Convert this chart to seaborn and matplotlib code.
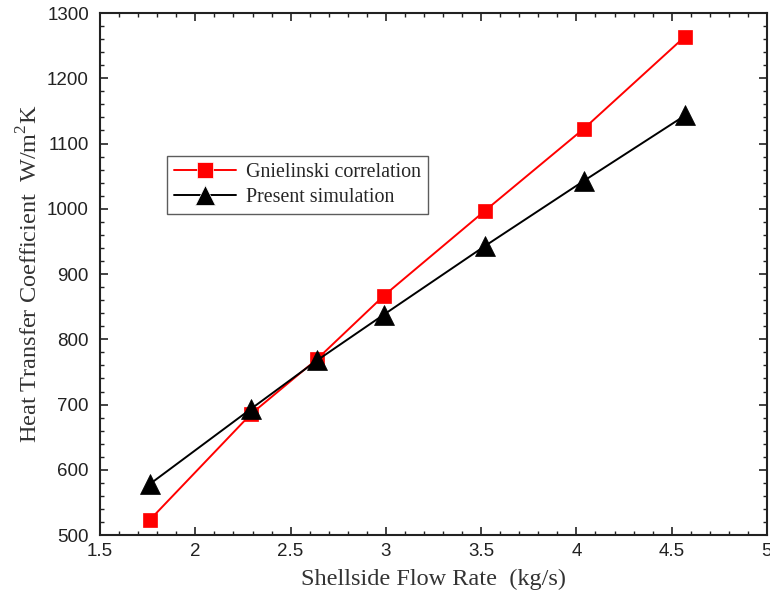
import pandas as pd
from matplotlib import pyplot as plt
from matplotlib.ticker import MultipleLocator
import seaborn as sns

# Data
flow_rate = [1.76, 2.29, 2.64, 2.99, 3.52, 4.04, 4.57]
gnielinski = [523, 685, 770, 867, 997, 1123, 1264]
simulation = [578, 693, 768, 838, 943, 1043, 1143]
series_names = ['Gnielinski correlation', 'Present simulation']

df = pd.DataFrame({
    'flow': flow_rate * 2,
    'htc': gnielinski + simulation,
    'series': [series_names[0]] * len(flow_rate) + [series_names[1]] * len(flow_rate),
})

sns.set_style('ticks')
plt.rcParams['font.family'] = ['Liberation Serif', 'DejaVu Serif']
plt.rcParams['mathtext.fontset'] = 'custom'
plt.rcParams['mathtext.rm'] = 'Liberation Serif'
plt.rcParams['xtick.direction'] = 'in'
plt.rcParams['ytick.direction'] = 'in'

fig = plt.figure(figsize=(7.7, 6.06), dpi=100)
ax = fig.add_axes([0.13, 0.117, 0.866, 0.8615])

sns.lineplot(data=df, x='flow', y='htc', hue='series', style='series',
             markers=['s', '^'], dashes=False, palette=['red', 'black'],
             markersize=11, linewidth=1.4, markeredgewidth=0.5, ax=ax)

# the triangles are a bit bigger than the squares
for line, ms in zip(ax.lines, [10.5, 14]):
    line.set_markersize(ms)
    line.set_markeredgecolor(line.get_color())

ax.set_xlim(1.5, 5)
ax.set_ylim(500, 1300)
ax.xaxis.set_major_locator(MultipleLocator(0.5))
ax.xaxis.set_minor_locator(MultipleLocator(0.1))
ax.yaxis.set_major_locator(MultipleLocator(100))
ax.yaxis.set_minor_locator(MultipleLocator(20))
ax.tick_params(which='both', top=True, right=True, color='#222222')
ax.tick_params(which='major', length=6, width=1.2)
ax.tick_params(which='minor', length=3, width=1)
ax.tick_params(axis='y', which='major', pad=8)
ax.tick_params(axis='x', which='major', pad=6)
ax.set_xticks([1.5, 2, 2.5, 3, 3.5, 4, 4.5, 5])
ax.set_xticklabels(['1.5', '2', '2.5', '3', '3.5', '4', '4.5', '5'])
for lab in ax.get_xticklabels() + ax.get_yticklabels():
    lab.set_family('Liberation Sans')
    lab.set_fontsize(13.5)
    lab.set_color('#222222')
for s in ax.spines.values():
    s.set_linewidth(1.5)
    s.set_color('#222222')

ax.set_xlabel('Shellside Flow Rate  (kg/s)', fontsize=17.5, color='#333333', labelpad=6)
ax.set_ylabel('Heat Transfer Coefficient  W/m$^2$K', fontsize=17.5, color='#333333', labelpad=3)

leg = ax.legend(loc='upper left', bbox_to_anchor=(0.1, 0.727), fontsize=14.4,
                frameon=True, fancybox=False, edgecolor='#333333',
                handlelength=3.1, handletextpad=0.5, borderpad=0.35,
                labelspacing=0.3, borderaxespad=0)
leg.get_frame().set_linewidth(1)
for h, ms in zip(leg.legend_handles, [12, 14]):
    h.set_markersize(ms)

fig.savefig('out.png', dpi=100)
